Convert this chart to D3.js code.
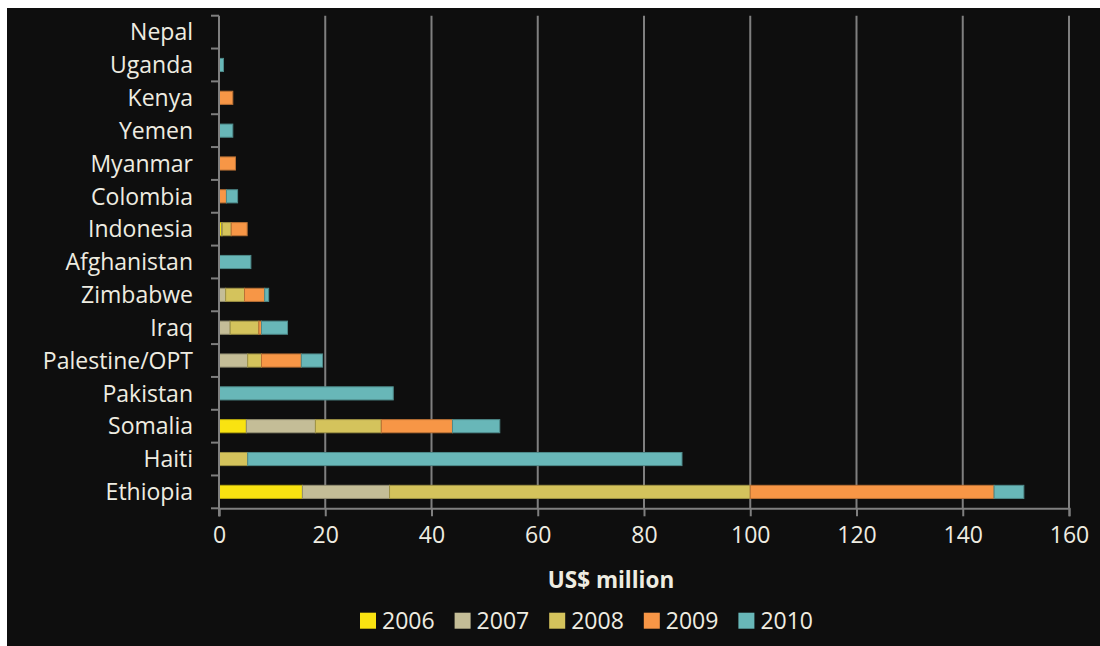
<!DOCTYPE html>
<html>
<head>
<meta charset="utf-8">
<script src="https://cdn.jsdelivr.net/npm/d3@7"></script>
<style>
  html, body { margin: 0; padding: 0; background: #ffffff; }
  svg { display: block; }
  text { font-family: "Open Sans", "Noto Sans", sans-serif; fill: #eeece1; }
</style>
</head>
<body>
<svg id="chart" width="1100" height="646"></svg>
<script>
// Humanitarian funding by country and year (US$ million), stacked by year
const countries = ["Nepal", "Uganda", "Kenya", "Yemen", "Myanmar", "Colombia", "Indonesia",
  "Afghanistan", "Zimbabwe", "Iraq", "Palestine/OPT", "Pakistan", "Somalia", "Haiti", "Ethiopia"];
const years = ["2006", "2007", "2008", "2009", "2010"];
const values2006 = [0, 0, 0, 0, 0, 0, 0.5, 0, 0, 0, 0, 0, 5.15, 0, 15.7];
const values2007 = [0, 0, 0, 0, 0, 0, 0.1, 0, 1.25, 2.1, 5.4, 0, 13.0, 0, 16.4];
const values2008 = [0, 0, 0, 0, 0, 0, 1.7, 0, 3.55, 5.4, 2.6, 0, 12.4, 5.4, 67.9];
const values2009 = [0, 0, 2.6, 0, 3.1, 1.4, 3.0, 0, 3.8, 0.5, 7.5, 0, 13.4, 0, 45.9];
const values2010 = [0, 0.85, 0, 2.6, 0, 2.1, 0, 6.0, 0.75, 4.9, 4.0, 32.8, 8.9, 81.75, 5.6];
const xTicks = [0, 20, 40, 60, 80, 100, 120, 140, 160];
const colors = ["#f9e311", "#c4bd97", "#d4c35c", "#f79646", "#68b7b8"];

const seriesValues = [values2006, values2007, values2008, values2009, values2010];
const rows = countries.map((c, i) => {
  const r = { country: c };
  years.forEach((y, k) => { r[y] = seriesValues[k][i]; });
  return r;
});

const svg = d3.select("#chart");

// dark panel
svg.append("rect").attr("x", 7).attr("y", 8).attr("width", 1093).attr("height", 638)
  .attr("fill", "#0e0e0e");

const plotTop = 15.7, plotBottom = 508.3, plotLeft = 219, plotRight = 1069;

const x = d3.scaleLinear().domain([0, 160]).range([plotLeft, plotRight]);
const y = d3.scaleBand().domain(countries).range([plotTop, plotBottom])
  .paddingInner(0.6).paddingOuter(0.3);
const step = (plotBottom - plotTop) / countries.length;

// vertical gridlines
svg.append("g").selectAll("line").data(xTicks.slice(1)).join("line")
  .attr("x1", d => x(d)).attr("x2", d => x(d))
  .attr("y1", plotTop).attr("y2", plotBottom)
  .attr("stroke", "#7f7f7f").attr("stroke-width", 2);

// stacked bars
const stack = d3.stack().keys(years)(rows);
const color = d3.scaleOrdinal().domain(years).range(colors);

svg.append("g").selectAll("g").data(stack).join("g")
  .attr("fill", d => color(d.key))
  .attr("stroke", d => d3.color(color(d.key)).darker(0.8))
  .attr("stroke-width", 1)
  .selectAll("rect").data(d => d.filter(s => s[1] - s[0] > 0)).join("rect")
  .attr("x", d => x(d[0]))
  .attr("y", d => y(d.data.country))
  .attr("width", d => x(d[1]) - x(d[0]))
  .attr("height", y.bandwidth());

// bottom axis
const xAxis = svg.append("g").attr("transform", `translate(0,${plotBottom})`)
  .call(d3.axisBottom(x).tickValues(xTicks).tickSize(8).tickPadding(10).tickFormat(d3.format("d")));
xAxis.select(".domain").attr("stroke", "#7f7f7f").attr("stroke-width", 2);
xAxis.selectAll(".tick line").attr("stroke", "#7f7f7f").attr("stroke-width", 2);
xAxis.selectAll(".tick text").attr("font-size", 23).attr("fill", "#eeece1")
  .attr("font-family", "'Open Sans', sans-serif");

// left axis with ticks at category boundaries
const yAxisG = svg.append("g");
yAxisG.append("line").attr("x1", plotLeft).attr("x2", plotLeft)
  .attr("y1", plotTop).attr("y2", plotBottom + 8)
  .attr("stroke", "#7f7f7f").attr("stroke-width", 2);
yAxisG.selectAll("line.b").data(d3.range(countries.length + 1)).join("line")
  .attr("class", "b")
  .attr("x1", plotLeft - 8).attr("x2", plotLeft)
  .attr("y1", i => plotTop + i * step).attr("y2", i => plotTop + i * step)
  .attr("stroke", "#7f7f7f").attr("stroke-width", 2);
yAxisG.selectAll("text").data(countries).join("text")
  .attr("x", 193).attr("y", d => y(d) + y.bandwidth() / 2)
  .attr("dy", "0.36em").attr("text-anchor", "end").attr("font-size", 23)
  .text(d => d);

// axis title
svg.append("text").attr("x", 611).attr("y", 588).attr("text-anchor", "middle")
  .attr("font-size", 22.5).attr("font-weight", "bold").text("US$ million");

// legend
const legend = svg.append("g").selectAll("g").data(years).join("g")
  .attr("transform", (d, i) => `translate(${360 + i * 94.6},612.7)`);
legend.append("rect").attr("width", 16).attr("height", 16).attr("fill", d => color(d));
legend.append("text").attr("x", 22).attr("y", 8).attr("dy", "0.36em")
  .attr("font-size", 23).text(d => d);
</script>
</body>
</html>
